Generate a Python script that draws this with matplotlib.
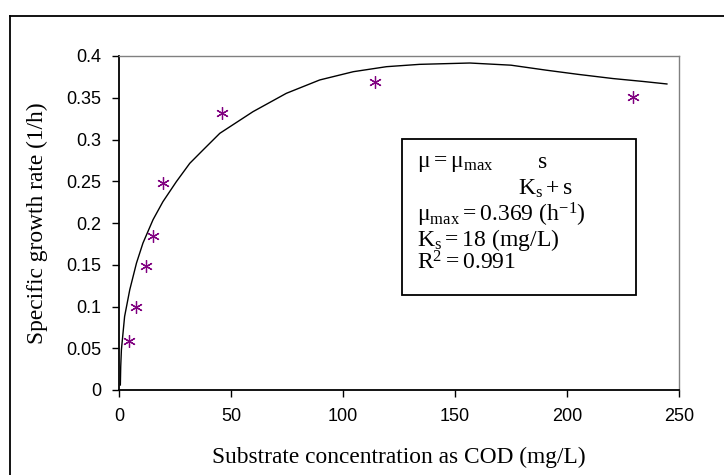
import matplotlib
matplotlib.use("Agg")
import matplotlib.pyplot as plt
from matplotlib.lines import Line2D

plt.rcParams['mathtext.fontset'] = 'custom'
plt.rcParams['mathtext.rm'] = 'Liberation Serif'
plt.rcParams['mathtext.it'] = 'Liberation Serif'

# measured data
substrate = [4.5, 7.8, 11.9, 15.4, 19.6, 46.0, 114.5, 229.5]
growth_rate = [0.059, 0.099, 0.149, 0.184, 0.248, 0.332, 0.369, 0.351]

# fitted curve
curve_x = [0.6, 0.77, 1.07, 2.5, 4.8, 7.8, 10.7, 15.2, 19.6, 25.6, 31.6, 37.5, 45.0,
           59.8, 74.7, 89.6, 104.6, 119.4, 134.2, 156.6, 175.0, 190.8, 205.0, 220.5,
           234.0, 244.6]
curve_y = [0.006, 0.028, 0.048, 0.088, 0.12, 0.152, 0.176, 0.204, 0.2255, 0.2495,
           0.2715, 0.2874, 0.3074, 0.3333, 0.3553, 0.3713, 0.3812, 0.3872, 0.390,
           0.3916, 0.389, 0.383, 0.378, 0.373, 0.3695, 0.3665]

x_ticks = [0, 50, 100, 150, 200, 250]
y_ticks = [0, 0.05, 0.1, 0.15, 0.2, 0.25, 0.3, 0.35, 0.4]
y_tick_labels = ['0', '0.05', '0.1', '0.15', '0.2', '0.25', '0.3', '0.35', '0.4']

W, H = 724, 475
fig = plt.figure(figsize=(W / 100, H / 100), dpi=100)

def fx(px):
    return px / W

def fy(py):
    return 1 - py / H

ax = fig.add_axes([fx(119), fy(390), (679 - 119) / W, (390 - 56) / H])

ax.plot(curve_x, curve_y, color='black', lw=1.0)
ax.plot(substrate, growth_rate, linestyle='none', marker=(6, 2, 0),
        markersize=9, markeredgewidth=0.9, color='#800080')

ax.set_xlim(0, 250)
ax.set_ylim(0, 0.4)
ax.set_xticks(x_ticks)
ax.set_xticklabels([str(t) for t in x_ticks])
ax.set_yticks(y_ticks)
ax.set_yticklabels(y_tick_labels)
ax.tick_params(direction='out', length=5, width=1.0, labelsize=13, pad=8)
for lab in ax.get_xticklabels() + ax.get_yticklabels():
    lab.set_family('Liberation Sans')

ax.spines['left'].set_linewidth(1.3)
ax.spines['bottom'].set_linewidth(1.3)
ax.spines['top'].set_color('#808080')
ax.spines['right'].set_color('#808080')
ax.spines['top'].set_linewidth(1.0)
ax.spines['right'].set_linewidth(1.0)

serif = 'Liberation Serif'
fig.text(fx(399), fy(457), 'Substrate concentration as COD (mg/L)', ha='center',
         va='center', family=serif, fontsize=16.8)
fig.text(fx(37), fy(223), 'Specific growth rate (1/h)', ha='center', va='center',
         rotation=90, family=serif, fontsize=16.8)

# outer chart border (top and left visible)
fig.add_artist(Line2D([fx(9.5), fx(9.5)], [fy(16), -0.05], color='black', lw=1.3,
                      transform=fig.transFigure))
fig.add_artist(Line2D([fx(9.5), 1.05], [fy(16), fy(16)], color='black', lw=1.3,
                      transform=fig.transFigure))

# equation box
fig.add_artist(plt.Rectangle((fx(402), fy(295)), (636 - 402) / W, (295 - 139) / H,
                             transform=fig.transFigure, fill=False, ec='black', lw=1.3))
fs = 17
fig.text(fx(417), fy(164), r'$\mathregular{\mu = \mu_{max}}$', ha='left', va='center',
         fontsize=fs, family=serif)
fig.text(fx(543), fy(162), 's', ha='center', va='center', fontsize=fs, family=serif)
fig.text(fx(518), fy(189), r'$\mathregular{K_s + s}$', ha='left', va='center',
         fontsize=fs, family=serif)
fig.text(fx(417), fy(215), r'$\mathregular{\mu_{max} = 0.369\ (h^{-1})}$', ha='left',
         va='center', fontsize=fs, family=serif)
fig.text(fx(417), fy(240), r'$\mathregular{K_s = 18\ (mg/L)}$', ha='left', va='center',
         fontsize=fs, family=serif)
fig.text(fx(417), fy(263), r'$\mathregular{R^2 = 0.991}$', ha='left', va='center',
         fontsize=fs, family=serif)

fig.savefig('out.png', dpi=100)
